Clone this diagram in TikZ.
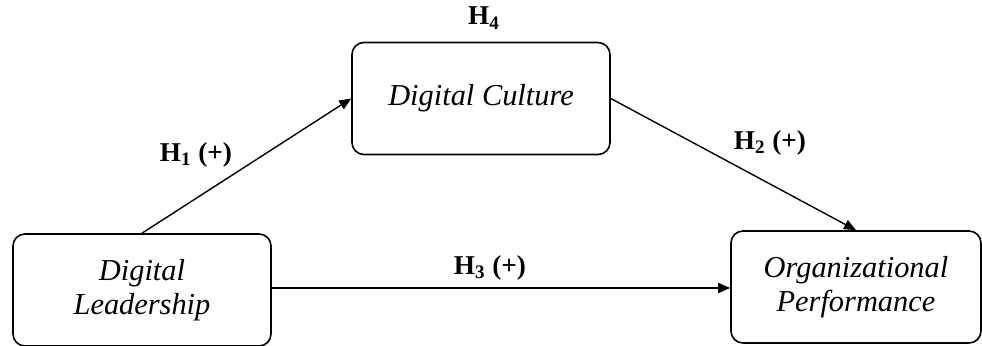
\documentclass[tikz,border=0pt]{standalone}
\usepackage{fontspec}
\setmainfont{Liberation Serif}
\usetikzlibrary{arrows.meta, positioning}

\begin{document}
\begin{tikzpicture}[
    x=0.5pt, y=-0.5pt,
    >={Triangle[length=6pt, width=5pt]},
    varbox/.style={
        draw=black, rounded corners=6pt, line width=0.8pt,
        minimum width=129pt, minimum height=56pt, align=center,
        font=\fontsize{15.2}{17}\selectfont\itshape, fill=white
    },
    hyplabel/.style={font=\fontsize{13.6}{15}\selectfont\bfseries},
    path/.style={->, line width=0.7pt},
]

% bounding box
\useasboundingbox (0,0) rectangle (982,346);

% Variables
\node[varbox] (culture) at (481, 98.5) {Digital Culture};
\node[varbox] (leader) at (142, 290) {Digital\\Leadership};
\node[varbox, minimum width=125pt] (perf) at (856, 287)
    {Organizational\\Performance};

% Paths
\draw[path] (leader.north) -- (culture.west);
\draw[path] (culture.east) -- (perf.north);
\draw[path] (leader.east |- 0,288) -- (perf.west |- 0,288);

% Hypothesis labels
\node[hyplabel] (h4) at (484, 18) {H\textsubscript{4}};
\node[hyplabel] (h1) at (196, 155) {H\textsubscript{1} (+)};
\node[hyplabel] (h2) at (770, 143) {H\textsubscript{2} (+)};
\node[hyplabel] (h3) at (490, 268) {H\textsubscript{3} (+)};

\end{tikzpicture}
\end{document}
